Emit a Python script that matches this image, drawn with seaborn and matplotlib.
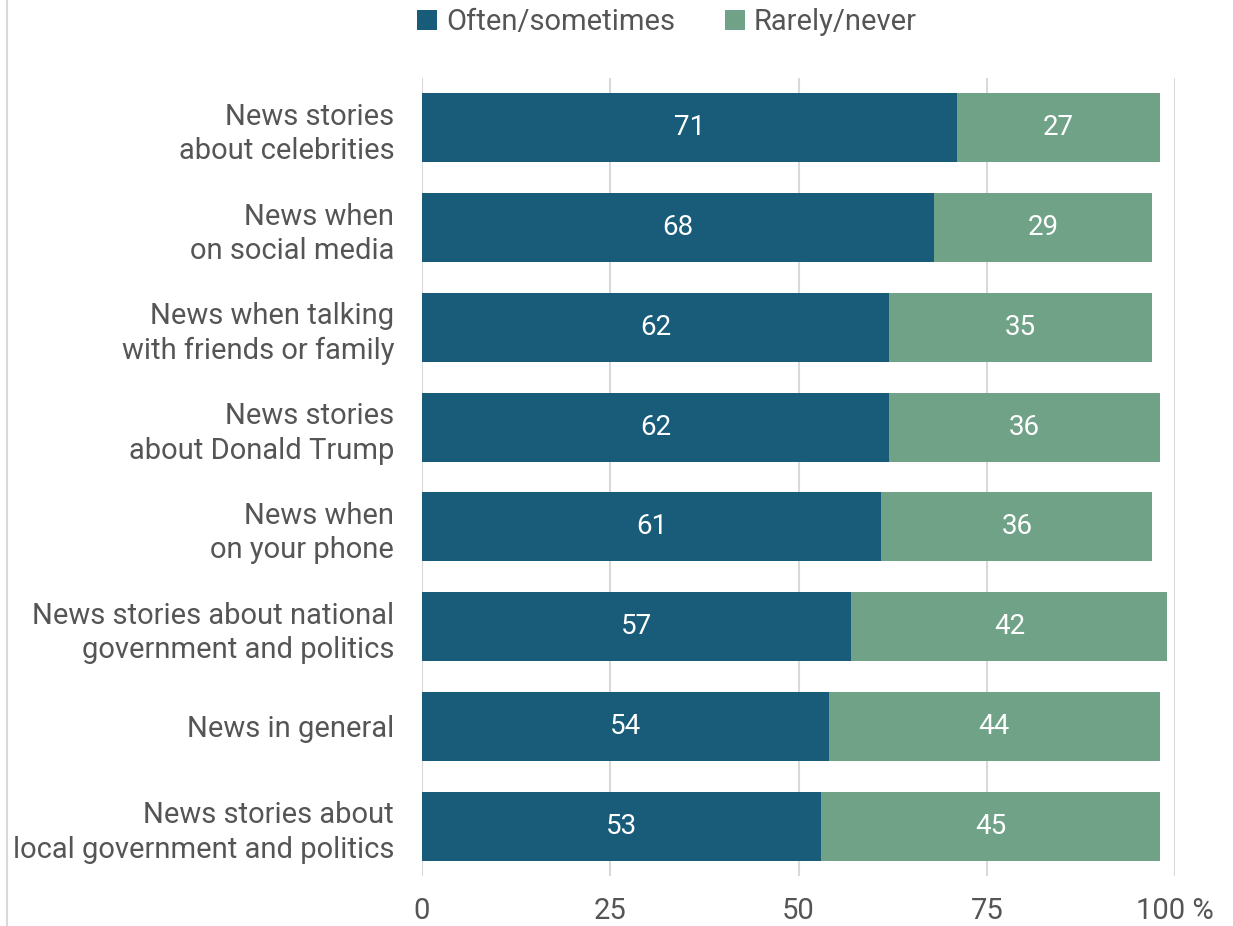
import matplotlib
matplotlib.use("Agg")
import matplotlib.pyplot as plt
from matplotlib.lines import Line2D
from matplotlib.patches import Patch
import seaborn as sns
import pandas as pd

categories = [
    "News stories\nabout celebrities",
    "News when\non social media",
    "News when talking\nwith friends or family",
    "News stories\nabout Donald Trump",
    "News when\non your phone",
    "News stories about national\ngovernment and politics",
    "News in general",
    "News stories about\nlocal government and politics",
]
often = [71, 68, 62, 62, 61, 57, 54, 53]
rarely = [27, 29, 35, 36, 36, 42, 44, 45]
series_names = ["Often/sometimes", "Rarely/never"]
x_ticks = [0, 25, 50, 75, 100]
x_tick_labels = ["0", "25", "50", "75", "100 %"]

BLUE = "#185c7a"
GREEN = "#70a288"
TEXT = "#555555"
GRID = "#d9d9d9"

sns.set_theme(style="white")
plt.rcParams["font.family"] = ["Roboto", "DejaVu Sans"]

df = pd.DataFrame({"category": categories, "often": often, "rarely": rarely})
df["total"] = df["often"] + df["rarely"]

fig = plt.figure(figsize=(12.33, 9.26), dpi=100)
ax = fig.add_axes([422 / 1233, 1 - 876 / 926, (1175 - 422) / 1233, (876 - 78) / 926])

# stacked bars: full total in green, first segment in blue on top
sns.barplot(data=df, x="total", y="category", color=GREEN, saturation=1,
            width=0.69, ax=ax, orient="h", zorder=2)
sns.barplot(data=df, x="often", y="category", color=BLUE, saturation=1,
            width=0.69, ax=ax, orient="h", zorder=3)
for p in ax.patches:
    p.set_edgecolor("none")

for i, (o, r) in enumerate(zip(often, rarely)):
    ax.text(o / 2, i, str(o), color="white", fontsize=20, ha="center", va="center", zorder=4)
    ax.text(o + r / 2, i, str(r), color="white", fontsize=20, ha="center", va="center", zorder=4)

ax.set_xlim(0, 100)
ax.set_ylim(len(categories) - 0.5, -0.5)
ax.set_xticks(x_ticks)
ax.set_xticklabels(x_tick_labels)
ax.xaxis.grid(True, color=GRID, linewidth=1.5, zorder=0)
ax.set_axisbelow(True)
ax.tick_params(axis="x", length=0, pad=15, labelsize=21, labelcolor=TEXT)
ax.tick_params(axis="y", length=0, pad=20, labelsize=21, labelcolor=TEXT)
for lbl in ax.get_yticklabels():
    lbl.set_multialignment("right")
    lbl.set_linespacing(1.3)
    lbl.set_y(lbl.get_position()[1])
ax.set_xlabel("")
ax.set_ylabel("")
for s in ax.spines.values():
    s.set_visible(False)

handles = [Patch(facecolor=BLUE, edgecolor="none"), Patch(facecolor=GREEN, edgecolor="none")]
fig.legend(handles, series_names, loc="center", bbox_to_anchor=(667 / 1233, 1 - 22 / 926),
           ncol=2, frameon=False, fontsize=21, labelcolor=TEXT, handlelength=0.7,
           handleheight=0.7, handletextpad=0.3, columnspacing=1.7)

fig.add_artist(Line2D([7 / 1233, 7 / 1233], [0, 1], color=GRID, linewidth=1.5,
                      transform=fig.transFigure))

fig.savefig("out.png", dpi=100, facecolor="white")
